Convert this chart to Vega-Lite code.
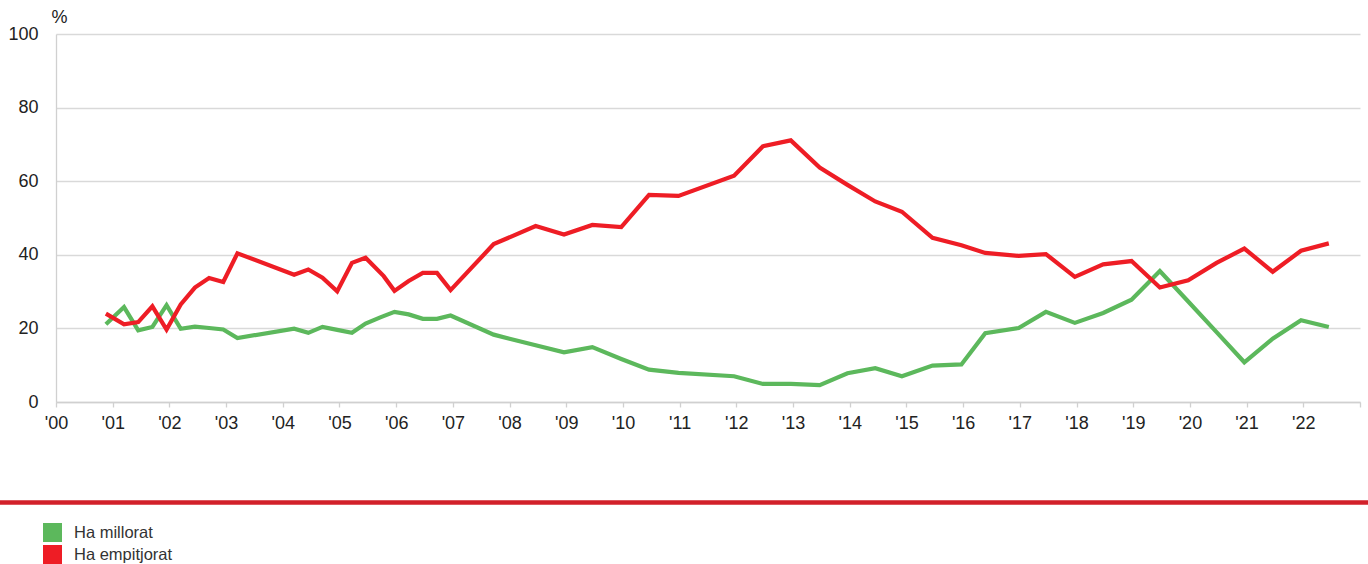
{
  "$schema": "https://vega.github.io/schema/vega-lite/v6.json",
  "width": 1304,
  "height": 368,
  "autosize": {"type": "none"},
  "padding": {"left": 56, "top": 34, "right": 8, "bottom": 162},
  "background": "white",
  "config": {
    "view": {"stroke": null},
    "font": "Liberation Sans",
    "axis": {"labelFont": "Liberation Sans", "titleFont": "Liberation Sans"},
    "legend": {"labelFont": "Liberation Sans"}
  },
  "datasets": {
    "series": [
      {"t": 2000.88, "serie": "Ha millorat", "v": 21.1},
      {"t": 2001.2, "serie": "Ha millorat", "v": 25.8},
      {"t": 2001.45, "serie": "Ha millorat", "v": 19.5},
      {"t": 2001.7, "serie": "Ha millorat", "v": 20.4},
      {"t": 2001.95, "serie": "Ha millorat", "v": 26.3},
      {"t": 2002.2, "serie": "Ha millorat", "v": 19.9},
      {"t": 2002.45, "serie": "Ha millorat", "v": 20.5},
      {"t": 2002.7, "serie": "Ha millorat", "v": 20.1},
      {"t": 2002.95, "serie": "Ha millorat", "v": 19.7},
      {"t": 2003.2, "serie": "Ha millorat", "v": 17.4},
      {"t": 2004.2, "serie": "Ha millorat", "v": 19.9},
      {"t": 2004.45, "serie": "Ha millorat", "v": 18.8},
      {"t": 2004.7, "serie": "Ha millorat", "v": 20.4},
      {"t": 2004.96, "serie": "Ha millorat", "v": 19.6},
      {"t": 2005.22, "serie": "Ha millorat", "v": 18.8},
      {"t": 2005.46, "serie": "Ha millorat", "v": 21.3},
      {"t": 2005.72, "serie": "Ha millorat", "v": 23.0},
      {"t": 2005.97, "serie": "Ha millorat", "v": 24.5},
      {"t": 2006.22, "serie": "Ha millorat", "v": 23.8},
      {"t": 2006.47, "serie": "Ha millorat", "v": 22.6},
      {"t": 2006.72, "serie": "Ha millorat", "v": 22.6},
      {"t": 2006.96, "serie": "Ha millorat", "v": 23.5},
      {"t": 2007.72, "serie": "Ha millorat", "v": 18.3},
      {"t": 2008.46, "serie": "Ha millorat", "v": 15.4},
      {"t": 2008.96, "serie": "Ha millorat", "v": 13.5},
      {"t": 2009.46, "serie": "Ha millorat", "v": 14.9},
      {"t": 2009.97, "serie": "Ha millorat", "v": 11.7},
      {"t": 2010.46, "serie": "Ha millorat", "v": 8.8},
      {"t": 2010.98, "serie": "Ha millorat", "v": 7.9},
      {"t": 2011.96, "serie": "Ha millorat", "v": 7.0},
      {"t": 2012.47, "serie": "Ha millorat", "v": 4.9},
      {"t": 2012.96, "serie": "Ha millorat", "v": 4.9},
      {"t": 2013.47, "serie": "Ha millorat", "v": 4.6},
      {"t": 2013.96, "serie": "Ha millorat", "v": 7.8},
      {"t": 2014.45, "serie": "Ha millorat", "v": 9.2},
      {"t": 2014.92, "serie": "Ha millorat", "v": 7.0},
      {"t": 2015.46, "serie": "Ha millorat", "v": 9.9},
      {"t": 2015.97, "serie": "Ha millorat", "v": 10.2},
      {"t": 2016.39, "serie": "Ha millorat", "v": 18.7},
      {"t": 2016.98, "serie": "Ha millorat", "v": 20.1},
      {"t": 2017.46, "serie": "Ha millorat", "v": 24.5},
      {"t": 2017.97, "serie": "Ha millorat", "v": 21.5},
      {"t": 2018.47, "serie": "Ha millorat", "v": 24.2},
      {"t": 2018.97, "serie": "Ha millorat", "v": 27.8},
      {"t": 2019.47, "serie": "Ha millorat", "v": 35.6},
      {"t": 2019.97, "serie": "Ha millorat", "v": 27.3},
      {"t": 2020.47, "serie": "Ha millorat", "v": 19.0},
      {"t": 2020.96, "serie": "Ha millorat", "v": 10.8},
      {"t": 2021.46, "serie": "Ha millorat", "v": 17.2},
      {"t": 2021.96, "serie": "Ha millorat", "v": 22.2},
      {"t": 2022.45, "serie": "Ha millorat", "v": 20.4},
      {"t": 2000.88, "serie": "Ha empitjorat", "v": 24.0},
      {"t": 2001.2, "serie": "Ha empitjorat", "v": 21.1},
      {"t": 2001.45, "serie": "Ha empitjorat", "v": 21.7},
      {"t": 2001.7, "serie": "Ha empitjorat", "v": 26.0},
      {"t": 2001.95, "serie": "Ha empitjorat", "v": 19.7},
      {"t": 2002.2, "serie": "Ha empitjorat", "v": 26.5},
      {"t": 2002.45, "serie": "Ha empitjorat", "v": 31.1},
      {"t": 2002.7, "serie": "Ha empitjorat", "v": 33.7},
      {"t": 2002.95, "serie": "Ha empitjorat", "v": 32.6},
      {"t": 2003.2, "serie": "Ha empitjorat", "v": 40.4},
      {"t": 2004.2, "serie": "Ha empitjorat", "v": 34.6},
      {"t": 2004.45, "serie": "Ha empitjorat", "v": 36.0},
      {"t": 2004.7, "serie": "Ha empitjorat", "v": 33.8},
      {"t": 2004.96, "serie": "Ha empitjorat", "v": 30.1},
      {"t": 2005.22, "serie": "Ha empitjorat", "v": 37.8},
      {"t": 2005.46, "serie": "Ha empitjorat", "v": 39.2},
      {"t": 2005.78, "serie": "Ha empitjorat", "v": 34.2},
      {"t": 2005.97, "serie": "Ha empitjorat", "v": 30.2},
      {"t": 2006.22, "serie": "Ha empitjorat", "v": 32.9},
      {"t": 2006.47, "serie": "Ha empitjorat", "v": 35.1},
      {"t": 2006.72, "serie": "Ha empitjorat", "v": 35.1},
      {"t": 2006.96, "serie": "Ha empitjorat", "v": 30.4},
      {"t": 2007.72, "serie": "Ha empitjorat", "v": 42.9},
      {"t": 2008.46, "serie": "Ha empitjorat", "v": 47.8},
      {"t": 2008.96, "serie": "Ha empitjorat", "v": 45.5},
      {"t": 2009.46, "serie": "Ha empitjorat", "v": 48.1},
      {"t": 2009.97, "serie": "Ha empitjorat", "v": 47.5},
      {"t": 2010.46, "serie": "Ha empitjorat", "v": 56.3},
      {"t": 2010.98, "serie": "Ha empitjorat", "v": 56.0},
      {"t": 2011.96, "serie": "Ha empitjorat", "v": 61.5},
      {"t": 2012.47, "serie": "Ha empitjorat", "v": 69.5},
      {"t": 2012.96, "serie": "Ha empitjorat", "v": 71.1},
      {"t": 2013.47, "serie": "Ha empitjorat", "v": 63.7},
      {"t": 2013.96, "serie": "Ha empitjorat", "v": 59.0},
      {"t": 2014.45, "serie": "Ha empitjorat", "v": 54.5},
      {"t": 2014.92, "serie": "Ha empitjorat", "v": 51.7},
      {"t": 2015.46, "serie": "Ha empitjorat", "v": 44.6},
      {"t": 2015.97, "serie": "Ha empitjorat", "v": 42.6},
      {"t": 2016.39, "serie": "Ha empitjorat", "v": 40.5},
      {"t": 2016.98, "serie": "Ha empitjorat", "v": 39.7},
      {"t": 2017.46, "serie": "Ha empitjorat", "v": 40.2},
      {"t": 2017.97, "serie": "Ha empitjorat", "v": 34.0},
      {"t": 2018.47, "serie": "Ha empitjorat", "v": 37.4},
      {"t": 2018.97, "serie": "Ha empitjorat", "v": 38.3},
      {"t": 2019.47, "serie": "Ha empitjorat", "v": 31.1},
      {"t": 2019.97, "serie": "Ha empitjorat", "v": 33.1},
      {"t": 2020.47, "serie": "Ha empitjorat", "v": 37.8},
      {"t": 2020.96, "serie": "Ha empitjorat", "v": 41.7},
      {"t": 2021.46, "serie": "Ha empitjorat", "v": 35.4},
      {"t": 2021.96, "serie": "Ha empitjorat", "v": 41.1},
      {"t": 2022.45, "serie": "Ha empitjorat", "v": 43.1}
    ]
  },
  "layer": [
    {
      "data": {"name": "series"},
      "mark": {"type": "line", "strokeWidth": 4.2, "strokeJoin": "miter", "strokeCap": "butt"},
      "encoding": {
        "x": {
          "field": "t",
          "type": "quantitative",
          "scale": {"domain": [2000, 2023], "nice": false, "zero": false},
          "axis": {
            "title": null,
            "values": [2000, 2001, 2002, 2003, 2004, 2005, 2006, 2007, 2008, 2009, 2010, 2011, 2012, 2013, 2014, 2015, 2016, 2017, 2018, 2019, 2020, 2021, 2022, 2023],
            "labelExpr": "datum.value < 2023 ? \"'\" + slice(toString(datum.value), 2) : ''",
            "grid": false,
            "domainColor": "#d0d0d0",
            "domainWidth": 1.3,
            "tickColor": "#d0d0d0",
            "tickWidth": 1.3,
            "tickSize": 5,
            "labelFontSize": 18,
            "labelColor": "#222222",
            "labelPadding": 7,
            "labelFlush": false,
            "labelOverlap": false
          }
        },
        "y": {
          "field": "v",
          "type": "quantitative",
          "scale": {"domain": [0, 100], "nice": false},
          "axis": {
            "title": "%",
            "titleAngle": 0,
            "titleAlign": "left",
            "titleBaseline": "middle",
            "titleX": -5,
            "titleY": -17,
            "titleFontSize": 18,
            "titleFontWeight": "normal",
            "titleColor": "#222222",
            "values": [0, 20, 40, 60, 80, 100],
            "ticks": false,
            "labelPadding": 18,
            "labelFontSize": 18,
            "labelColor": "#222222",
            "gridColor": "#d9d9d9",
            "gridWidth": 1.3,
            "domainColor": "#d0d0d0",
            "domainWidth": 1.3
          }
        },
        "color": {
          "field": "serie",
          "type": "nominal",
          "sort": ["Ha millorat", "Ha empitjorat"],
          "scale": {"domain": ["Ha millorat", "Ha empitjorat"], "range": ["#5cb85c", "#ee1d25"]},
          "legend": {
            "title": null,
            "orient": "none",
            "legendX": -13,
            "legendY": 489,
            "symbolType": "square",
            "symbolSize": 361,
            "symbolStrokeWidth": 0,
            "symbolOpacity": 1,
            "labelFontSize": 16.5,
            "labelColor": "#333333",
            "labelOffset": 12,
            "rowPadding": 3,
            "padding": 0,
            "encode": {
              "symbols": {
                "update": {
                  "fill": {"scale": "color", "field": "value"},
                  "fillOpacity": {"value": 1},
                  "strokeWidth": {"value": 0}
                }
              }
            }
          }
        }
      }
    },
    {
      "data": {"values": [{}]},
      "mark": {"type": "rule", "color": "#d2202a", "strokeWidth": 4.5, "clip": false},
      "encoding": {
        "y": {"datum": -27.3, "type": "quantitative"},
        "x": {"datum": 1998.8, "type": "quantitative"},
        "x2": {"datum": 2023.6}
      }
    }
  ]
}
